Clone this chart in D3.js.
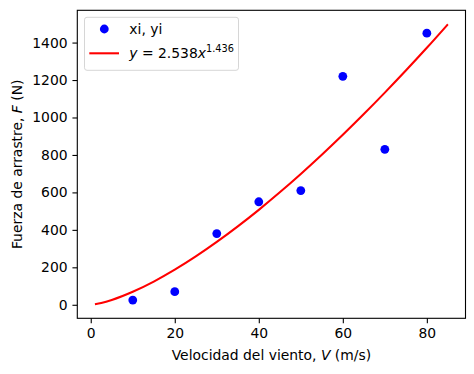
<!DOCTYPE html>
<html>
<head>
<meta charset="utf-8">
<script src="https://cdn.jsdelivr.net/npm/d3@7"></script>
<style>
  body { margin: 0; background: #fff; }
  svg { display: block; font-family: "DejaVu Sans", sans-serif; }
</style>
</head>
<body>
<svg id="chart" width="474" height="374"></svg>
<script>
// measured data
const xi = [10, 20, 30, 40, 50, 60, 70, 80];
const yi = [25, 70, 380, 550, 610, 1220, 830, 1450];

// fitted curve y = 2.538 x^1.436, sampled values
const fitX = [1, 2.5, 5, 10, 15, 20, 25, 30, 35, 40, 45, 50, 55, 60, 65, 70, 75, 80, 85];
const fitY = [2.5, 9.6, 25.6, 69.3, 124.0, 187.4, 258.2, 335.5, 418.6, 507.0, 600.5, 698.5, 801.0, 907.6, 1018.2, 1132.7, 1250.5, 1372.0, 1497.5];

const xTicks = [0, 20, 40, 60, 80];
const yTicks = [0, 200, 400, 600, 800, 1000, 1200, 1400];

const margin = {top: 10.3, right: 8.5, bottom: 55.7, left: 77.3};
const width = 474 - margin.left - margin.right;
const height = 374 - margin.top - margin.bottom;
const fs = 13.9;

const svg = d3.select("#chart");
const g = svg.append("g")
    .attr("transform", "translate(" + margin.left + "," + margin.top + ")");

const xScale = d3.scaleLinear().domain([-3.2, 89.2]).range([0, width]);
const yScale = d3.scaleLinear().domain([-72.2, 1572.3]).range([height, 0]);

// x-axis
const xAxis = g.append("g")
    .attr("transform", "translate(0," + height + ")")
    .call(d3.axisBottom(xScale).tickValues(xTicks).tickFormat(d3.format("d"))
        .tickSize(4.86).tickPadding(4.86).tickSizeOuter(0));

// y-axis
const yAxis = g.append("g")
    .call(d3.axisLeft(yScale).tickValues(yTicks).tickFormat(d3.format("d"))
        .tickSize(4.86).tickPadding(4.86).tickSizeOuter(0));

[xAxis, yAxis].forEach(a => {
    a.select(".domain").remove();
    a.selectAll("line").attr("stroke", "#000").attr("stroke-width", 1.1);
    a.selectAll("text").attr("font-size", fs).attr("fill", "#000")
        .attr("font-family", "DejaVu Sans");
});

// frame
g.append("rect")
    .attr("width", width)
    .attr("height", height)
    .attr("fill", "none")
    .attr("stroke", "#000")
    .attr("stroke-width", 1.1);

// fit line
const line = d3.line()
    .x((d, i) => xScale(fitX[i]))
    .y(d => yScale(d))
    .curve(d3.curveMonotoneX);

g.append("path")
    .datum(fitY)
    .attr("d", line)
    .attr("fill", "none")
    .attr("stroke", "red")
    .attr("stroke-width", 2.08);

// points
g.selectAll(".dot")
    .data(xi)
    .enter().append("circle")
    .attr("class", "dot")
    .attr("r", 4.4)
    .attr("cx", d => xScale(d))
    .attr("cy", (d, i) => yScale(yi[i]))
    .attr("fill", "blue");

// axis labels
const xl = svg.append("text")
    .attr("x", margin.left + width / 2)
    .attr("y", 359.5)
    .attr("text-anchor", "middle")
    .attr("font-size", fs);
xl.append("tspan").text("Velocidad del viento, ");
xl.append("tspan").attr("font-style", "italic").text("V");
xl.append("tspan").text(" (m/s)");

const yl = svg.append("text")
    .attr("transform", "translate(22.3," + (margin.top + height / 2) + ") rotate(-90)")
    .attr("text-anchor", "middle")
    .attr("font-size", fs);
yl.append("tspan").text("Fuerza de arrastre, ");
yl.append("tspan").attr("font-style", "italic").text("F");
yl.append("tspan").text(" (N)");

// legend
const leg = svg.append("g");
leg.append("rect")
    .attr("x", 84.5).attr("y", 17.3)
    .attr("width", 154).attr("height", 53)
    .attr("rx", 2.5)
    .attr("fill", "#fff").attr("fill-opacity", 0.8)
    .attr("stroke", "#d6d6d6").attr("stroke-width", 1);
leg.append("circle")
    .attr("cx", 104.3).attr("cy", 29)
    .attr("r", 4.4).attr("fill", "blue");
leg.append("line")
    .attr("x1", 89.3).attr("x2", 119)
    .attr("y1", 53.3).attr("y2", 53.3)
    .attr("stroke", "red").attr("stroke-width", 2.08);
leg.append("text")
    .attr("x", 129.3).attr("y", 34)
    .attr("font-size", fs)
    .text("xi, yi");
const lt = leg.append("text")
    .attr("x", 129.3).attr("y", 58.3)
    .attr("font-size", fs);
lt.append("tspan").attr("font-style", "italic").text("y");
lt.append("tspan").text(" = 2.538");
lt.append("tspan").attr("font-style", "italic").text("x");
lt.append("tspan").attr("font-size", fs * 0.7).attr("dy", -6).text("1.436");
</script>
</body>
</html>
